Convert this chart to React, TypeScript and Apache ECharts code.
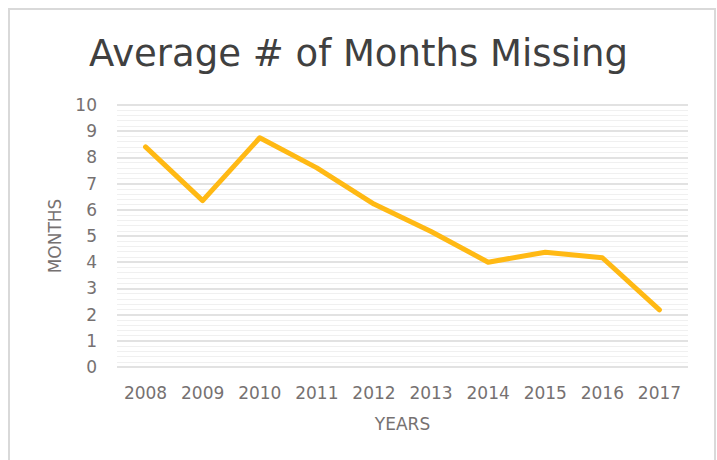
import React, { useEffect, useRef } from "react";
import * as echarts from "echarts";

const years = ["2008", "2009", "2010", "2011", "2012", "2013", "2014", "2015", "2016", "2017"];
const monthsMissing = [8.4, 6.35, 8.75, 7.6, 6.22, 5.17, 4.0, 4.38, 4.17, 2.18];
const titleText = "Average # of Months Missing";
const xName = "YEARS";
const yName = "MONTHS";

export default function App() {
  const ref = useRef<HTMLDivElement>(null);
  useEffect(() => {
    document.body.style.margin = "0";
    const chart = echarts.init(ref.current!, null, { renderer: "svg" });
    const font = "'DejaVu Sans', Arial, sans-serif";
    const labelColor = "#767171";
    chart.setOption({
      animation: false,
      backgroundColor: "#ffffff",
      title: {
        text: titleText,
        left: "center",
        top: 30,
        textStyle: { fontFamily: font, fontSize: 37, fontWeight: "normal", color: "#404040" },
      },
      graphic: [
        {
          type: "rect",
          shape: { x: 9, y: 9, width: 706, height: 470 },
          style: { fill: "none", stroke: "#d9d9d9", lineWidth: 2 },
          silent: true,
        },
      ],
      grid: { left: 117, right: 29, top: 105, bottom: 93 },
      xAxis: {
        type: "category",
        data: years,
        boundaryGap: true,
        name: xName,
        nameLocation: "middle",
        nameGap: 48,
        nameTextStyle: { fontFamily: font, fontSize: 17, color: labelColor },
        axisLine: { show: false },
        axisTick: { show: false },
        axisLabel: { fontFamily: font, fontSize: 17, color: labelColor, margin: 17, interval: 0 },
      },
      yAxis: {
        type: "value",
        min: 0,
        max: 10,
        interval: 1,
        name: yName,
        nameLocation: "middle",
        nameGap: 54,
        nameTextStyle: { fontFamily: font, fontSize: 17, color: labelColor },
        axisLine: { show: false },
        axisTick: { show: false },
        axisLabel: { fontFamily: font, fontSize: 17, color: labelColor, margin: 20 },
        splitLine: { show: true, lineStyle: { color: "#d9d9d9", width: 1.5 } },
        minorTick: { show: false, splitNumber: 5 },
        minorSplitLine: { show: true, lineStyle: { color: "#f0f0f0", width: 1 } },
      },
      series: [
        {
          type: "line",
          data: monthsMissing,
          symbol: "none",
          lineStyle: { color: "#FFB914", width: 5, cap: "round", join: "round" },
        },
      ],
    });
    return () => chart.dispose();
  }, []);
  return <div ref={ref} style={{ width: 717, height: 460 }} />;
}
